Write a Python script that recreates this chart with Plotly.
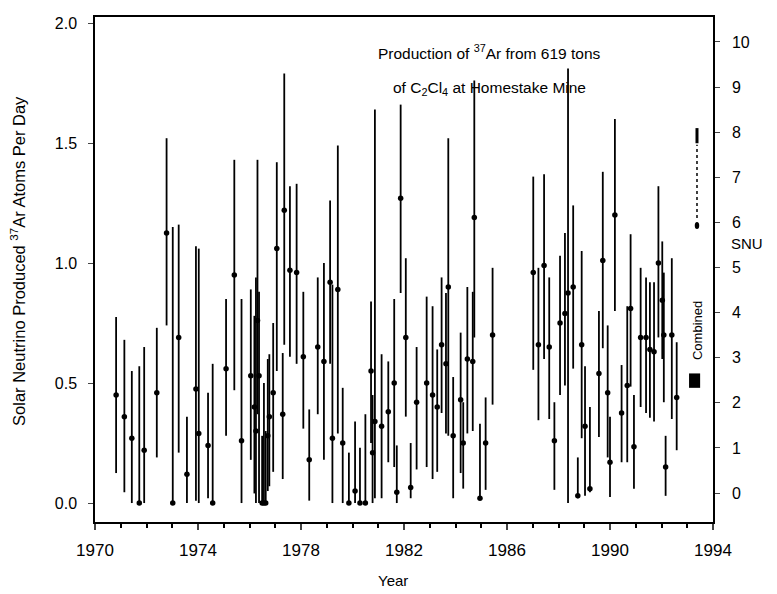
import numpy as np
import plotly.graph_objects as go

# ---- data (year, rate, upper end of bar, lower end of bar) ----
years = [1970.82, 1971.14, 1971.43, 1971.72, 1971.91, 1972.40, 1972.78, 1973.02, 1973.25, 1973.57,
         1973.92, 1974.03, 1974.39, 1974.57, 1975.09, 1975.41, 1975.69, 1976.05, 1976.19, 1976.25,
         1976.31, 1976.37, 1976.49, 1976.56, 1976.63, 1976.71, 1976.77, 1976.92, 1977.06, 1977.29,
         1977.35, 1977.57, 1977.83, 1978.09, 1978.32, 1978.65, 1978.89, 1979.13, 1979.22, 1979.43,
         1979.62, 1979.86, 1980.10, 1980.29, 1980.50, 1980.72, 1980.78, 1980.87, 1981.13, 1981.39,
         1981.62, 1981.72, 1981.87, 1982.07, 1982.26, 1982.49, 1982.88, 1983.11, 1983.29, 1983.46,
         1983.63, 1983.72, 1983.91, 1984.20, 1984.30, 1984.46, 1984.67, 1984.73, 1984.95, 1985.17,
         1985.44, 1987.02, 1987.22, 1987.44, 1987.64, 1987.84, 1988.06, 1988.25, 1988.37, 1988.57,
         1988.75, 1988.90, 1989.03, 1989.22, 1989.57, 1989.72, 1989.91, 1990.00, 1990.19, 1990.45,
         1990.67, 1990.80, 1990.93, 1991.19, 1991.40, 1991.55, 1991.71, 1991.88, 1992.03, 1992.09,
         1992.16, 1992.40, 1992.59]
rate = [0.45, 0.36, 0.27, 0.0, 0.22, 0.46, 1.125, 0.0, 0.69, 0.12,
        0.475, 0.29, 0.24, 0.0, 0.56, 0.95, 0.26, 0.53, 0.40, 0.30,
        0.76, 0.53, 0.0, 0.0, 0.0, 0.28, 0.36, 0.46, 1.06, 0.37,
        1.22, 0.97, 0.96, 0.61, 0.18, 0.65, 0.59, 0.92, 0.27, 0.89,
        0.25, 0.0, 0.05, 0.0, 0.0, 0.55, 0.21, 0.34, 0.32, 0.38,
        0.50, 0.045, 1.27, 0.69, 0.065, 0.42, 0.50, 0.45, 0.40, 0.66,
        0.58, 0.90, 0.28, 0.43, 0.25, 0.60, 0.59, 1.19, 0.02, 0.25,
        0.70, 0.96, 0.66, 0.99, 0.65, 0.26, 0.75, 0.79, 0.875, 0.90,
        0.03, 0.66, 0.32, 0.06, 0.54, 1.01, 0.46, 0.17, 1.20, 0.375,
        0.49, 0.81, 0.235, 0.69, 0.69, 0.64, 0.63, 1.0, 0.845, 0.70,
        0.15, 0.70, 0.44]
upper = [0.775, 0.68, 0.55, 0.57, 0.65, 0.73, 1.52, 1.15, 1.16, 0.36,
         1.07, 1.06, 0.46, 0.58, 0.85, 1.43, 0.85, 0.89, 0.78, 0.94,
         1.43, 0.88, 0.28, 0.50, 0.30, 0.60, 0.62, 0.75, 1.42, 0.625,
         1.79, 1.32, 1.33, 0.88, 0.39, 0.94, 1.0, 1.26, 0.91, 1.49,
         0.48, 0.21, 0.34, 0.23, 0.37, 0.84, 0.45, 1.64, 0.62, 0.59,
         0.85, 0.24, 1.66, 1.02, 0.25, 0.65, 0.86, 0.82, 0.64, 0.94,
         0.875, 1.52, 0.525, 0.71, 0.42, 0.90, 0.88, 1.76, 0.33, 0.44,
         0.98, 1.36, 0.98, 1.37, 0.94, 0.42, 1.03, 1.125, 1.81, 1.24,
         0.19, 1.05, 0.57, 0.40, 0.80, 1.38, 0.74, 0.36, 1.60, 0.575,
         0.82, 1.12, 0.45, 0.98, 0.94, 0.92, 0.92, 1.32, 1.09, 0.96,
         0.28, 1.02, 0.67]
lower = [0.125, 0.045, 0.0, 0.0, 0.0, 0.19, 0.74, 0.0, 0.21, 0.0,
         0.01, 0.0, 0.02, 0.0, 0.28, 0.47, 0.0, 0.18, 0.04, 0.0,
         0.37, 0.0, 0.0, 0.0, 0.0, 0.05, 0.07, 0.13, 0.55, 0.10,
         0.66, 0.61, 0.58, 0.31, 0.01, 0.37, 0.18, 0.58, 0.0, 0.29,
         0.0, 0.0, 0.0, 0.0, 0.0, 0.25, 0.0, 0.02, 0.02, 0.17,
         0.15, 0.0, 0.875, 0.36, 0.02, 0.14, 0.15, 0.10, 0.13, 0.375,
         0.29, 0.28, 0.02, 0.125, 0.06, 0.29, 0.30, 0.69, 0.02, 0.055,
         0.41, 0.555, 0.345, 0.60, 0.35, 0.055, 0.45, 0.49, 0.0, 0.56,
         0.02, 0.27, 0.03, 0.045, 0.275, 0.645, 0.19, 0.025, 0.80, 0.17,
         0.17, 0.485, 0.06, 0.40, 0.375, 0.355, 0.34, 0.69, 0.60, 0.42,
         0.03, 0.35, 0.22]

combined_rate = [0.48, 0.54]          # black "Combined" box (Ar atoms/day)
combined_years = [1993.07, 1993.50]

x_ticks = [1970, 1974, 1978, 1982, 1986, 1990, 1994]
y_ticks = [0.0, 0.5, 1.0, 1.5, 2.0]
y_ticklabels = ["0.0", "0.5", "1.0", "1.5", "2.0"]
snu_ticks = list(range(0, 11))

FONT = "Liberation Sans"

r = np.array(rate)
err_plus = np.array(upper) - r
err_minus = r - np.array(lower)

fig = go.Figure()
fig.add_trace(go.Scatter(
    x=years, y=rate, mode="markers",
    marker=dict(color="black", size=5.5),
    error_y=dict(type="data", symmetric=False, array=err_plus, arrayminus=err_minus,
                 color="black", thickness=1.8, width=0),
    showlegend=False, hoverinfo="skip"))
# invisible trace to activate the SNU axis
fig.add_trace(go.Scatter(x=[1970], y=[0], yaxis="y2", mode="markers",
                         marker=dict(opacity=0), showlegend=False, hoverinfo="skip"))

fig.add_shape(type="rect", xref="x", yref="y",
              x0=combined_years[0], x1=combined_years[1],
              y0=combined_rate[0], y1=combined_rate[1],
              fillcolor="black", line=dict(width=0))

# small rotated legend scribble (sample error bar)
fig.add_shape(type="line", xref="paper", yref="paper", x0=0.9741, x1=0.9741, y0=0.602, y1=0.747,
              line=dict(color="black", width=1.5, dash="dot"))
fig.add_shape(type="line", xref="paper", yref="paper", x0=0.9741, x1=0.9741, y0=0.750, y1=0.780,
              line=dict(color="black", width=3))
fig.add_shape(type="circle", xref="paper", yref="paper", x0=0.9705, x1=0.9777, y0=0.580, y1=0.594,
              fillcolor="black", line=dict(width=0))

ann = [
    dict(text="Production of <sup>37</sup>Ar from 619 tons", x=0.639, y=0.931,
         font=dict(size=15.5)),
    dict(text="of C<sub>2</sub>Cl<sub>4</sub> at Homestake Mine", x=0.639, y=0.859,
         font=dict(size=15.5)),
    dict(text="Solar Neutrino Produced <sup>37</sup>Ar Atoms Per Day", x=-0.1246, y=0.517,
         textangle=-90, font=dict(size=16.5)),
    dict(text="Year", x=0.482, y=-0.115, font=dict(size=15)),
    dict(text="Combined", x=0.974, y=0.380, textangle=-90, font=dict(size=13)),
    dict(text="SNU", x=1.026, y=0.552, xanchor="left", font=dict(size=15)),
]
for a in ann:
    a.setdefault("xanchor", "center")
    a.update(xref="paper", yref="paper", yanchor="middle", showarrow=False)
    a["font"].update(family=FONT, color="black")
fig.update_layout(annotations=ann)

fig.update_layout(
    width=777, height=594,
    margin=dict(l=95, r=64, t=17, b=72),
    paper_bgcolor="white", plot_bgcolor="white",
    font=dict(family=FONT, color="black"),
    xaxis=dict(range=[1970, 1994], tickvals=x_ticks, ticks="outside", ticklen=6,
               tickwidth=1.5, showgrid=False, zeroline=False, showline=True,
               linecolor="black", linewidth=1.5, mirror=True,
               tickfont=dict(size=17), ticklabelstandoff=6,
               minor=dict(dtick=1, ticks="outside", ticklen=4, tickcolor="black")),
    yaxis=dict(range=[-0.079, 2.025], tickvals=y_ticks, ticktext=y_ticklabels,
               ticks="outside", ticklen=5, showgrid=False, zeroline=False,
               showline=True, linecolor="black", linewidth=1.5,
               tickfont=dict(size=16), ticklabelstandoff=8),
    yaxis2=dict(range=[-0.643, 10.554], overlaying="y", side="right",
                tickvals=snu_ticks, ticks="outside", ticklen=5, showgrid=False,
                zeroline=False, showline=True, linecolor="black", linewidth=1.5,
                tickfont=dict(size=16), ticklabelstandoff=9),
)

fig.write_html("out.html")
